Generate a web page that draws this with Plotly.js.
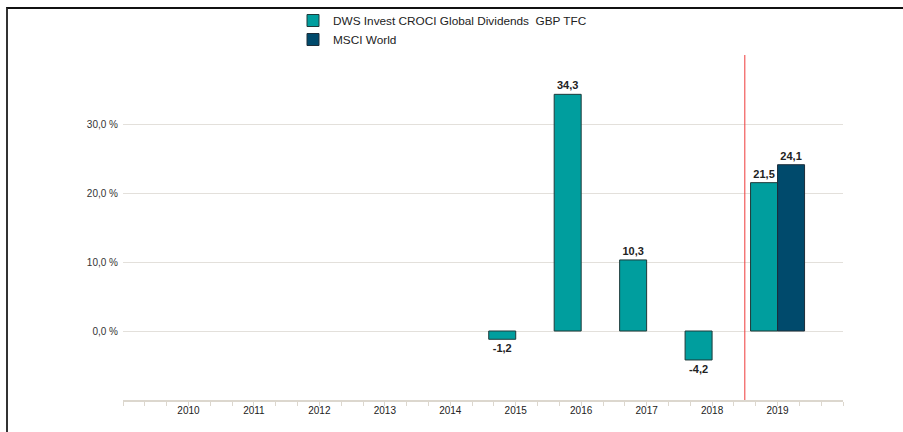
<!DOCTYPE html>
<html>
<head>
<meta charset="utf-8">
<script src="https://cdn.plot.ly/plotly-3.0.1.min.js"></script>
<style>
  html, body { margin: 0; padding: 0; background: #fff; }
  #wrap { position: relative; width: 903px; height: 432px; }
  #chart { width: 903px; height: 432px; }
  #frame { position: absolute; left: 6px; top: 7px; right: 0; bottom: 0;
           border-top: 2px solid #111; border-left: 2px solid #333; pointer-events: none; }
</style>
</head>
<body>
<div id="wrap"><div id="chart"></div><div id="frame"></div></div>
<script>
// Data
const years = [2010, 2011, 2012, 2013, 2014, 2015, 2016, 2017, 2018, 2019];
const fundName = 'DWS Invest CROCI Global Dividends  GBP TFC';
const fundValues = [null, null, null, null, null, -1.2, 34.3, 10.3, -4.2, 21.5];
const indexName = 'MSCI World';
const indexYears = [2019];
const indexValues = [24.1];
const yTickVals = [0, 10, 20, 30, 40];
const yTickText = ['0,0 %', '10,0 %', '20,0 %', '30,0 %', ''];
const xTickText = ['2010', '2011', '2012', '2013', '2014', '2015', '2016', '2017', '2018', '2019'];
const markerYear = 2018.5;

const fmt = v => (v === null ? '' : v.toFixed(1).replace('.', ','));

const traces = [
  {
    type: 'bar', name: fundName, x: years, y: fundValues,
    text: fundValues.map(fmt), textposition: 'outside', cliponaxis: false,
    textfont: { family: 'Liberation Sans, Arial, sans-serif', size: 11, color: '#222', weight: 'bold' },
    marker: { color: '#009e9e', line: { color: '#1e3a3a', width: 1 } },
    hoverinfo: 'skip'
  },
  {
    type: 'bar', name: indexName, x: indexYears, y: indexValues,
    text: indexValues.map(fmt), textposition: 'outside', cliponaxis: false,
    textfont: { family: 'Liberation Sans, Arial, sans-serif', size: 11, color: '#222', weight: 'bold' },
    marker: { color: '#004a6c', line: { color: '#1e2e3a', width: 1 } },
    hoverinfo: 'skip'
  }
];

const layout = {
  width: 903, height: 432,
  margin: { l: 123, r: 60, t: 55, b: 32, autoexpand: false },
  paper_bgcolor: '#fff', plot_bgcolor: '#fff',
  barmode: 'group', bargap: 0.175, bargroupgap: 0,
  font: { family: 'Liberation Sans, Arial, sans-serif', size: 10, color: '#333' },
  showlegend: true,
  legend: {
    xref: 'paper', yref: 'container',
    x: (293 - 123) / 720, y: 1 - 6 / 432, xanchor: 'left', yanchor: 'top',
    orientation: 'v', bgcolor: 'rgba(0,0,0,0)',
    font: { family: 'Liberation Sans, Arial, sans-serif', size: 11.8, color: '#222' },
    traceorder: 'normal', tracegroupgap: 0
  },
  xaxis: {
    type: 'linear', range: [2009, 2020],
    tickmode: 'array', tickvals: years, ticktext: xTickText,
    ticks: '', showgrid: false, zeroline: false,
    showline: true, linecolor: '#dcd7ce', linewidth: 2,
    tickfont: { size: 10, color: '#222' },
    minor: { tick0: 2009, dtick: 1 / 3, ticks: 'outside', ticklen: 4, tickcolor: '#dcd7ce', tickwidth: 1, showgrid: false }
  },
  yaxis: {
    range: [-10, 40],
    tickmode: 'array', tickvals: yTickVals, ticktext: yTickText,
    showgrid: true, gridcolor: '#e3e0db', gridwidth: 1,
    zeroline: true, zerolinecolor: '#e3e0db', zerolinewidth: 1,
    showline: false, ticks: '', ticklabelstandoff: 4,
    tickfont: { size: 10, color: '#333' }
  },
  shapes: [
    { type: 'line', xref: 'x', yref: 'paper', x0: markerYear, x1: markerYear, y0: 0, y1: 1,
      line: { color: '#ee3a3a', width: 1 } }
  ]
};

Plotly.newPlot('chart', traces, layout, { displayModeBar: false, staticPlot: true });
</script>
</body>
</html>
